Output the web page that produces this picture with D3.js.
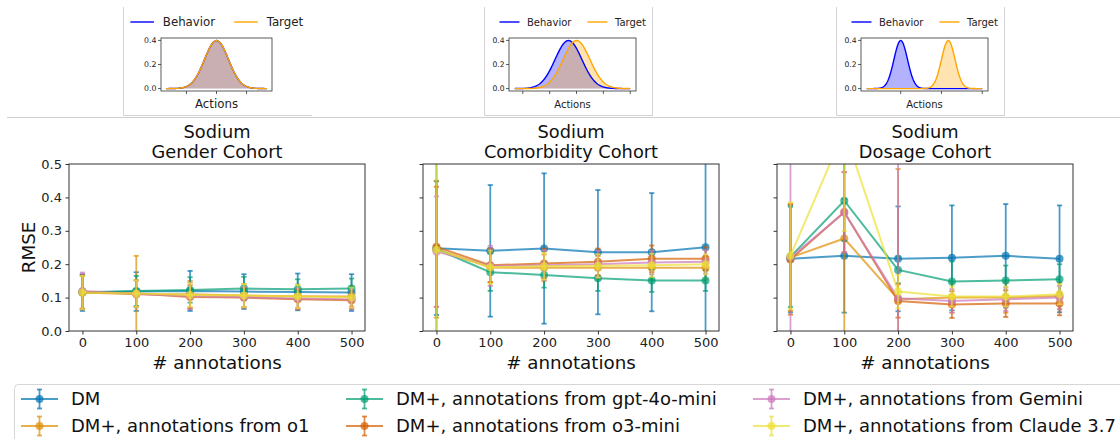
<!DOCTYPE html>
<html>
<head>
<meta charset="utf-8">
<script src="https://cdn.jsdelivr.net/npm/d3@7"></script>
<style>
  body { margin: 0; background: #fff; }
  svg { display: block; font-family: "DejaVu Sans", sans-serif; }
</style>
</head>
<body>
<div id="chart"></div>
<script>
// x values shared by every panel
const annotations = [0, 100, 200, 300, 400, 500];

const seriesNames = [
  "DM",
  "DM+, annotations from o1",
  "DM+, annotations from gpt-4o-mini",
  "DM+, annotations from o3-mini",
  "DM+, annotations from Gemini",
  "DM+, annotations from Claude 3.7"
];
const seriesColors = ["#0173b2", "#de8f05", "#029e73", "#d55e00", "#cc78bc", "#ece133"];

const cohortTitles = ["Gender Cohort", "Comorbidity Cohort", "Dosage Cohort"];
const yTicks = [0, 0.1, 0.2, 0.3, 0.4, 0.5];

// RMSE means, one row per series (same order as seriesNames)
const genderMean = [
  [0.115, 0.118, 0.120, 0.118, 0.117, 0.115],
  [0.115, 0.110, 0.110, 0.106, 0.104, 0.103],
  [0.116, 0.120, 0.123, 0.127, 0.125, 0.127],
  [0.117, 0.112, 0.102, 0.100, 0.095, 0.092],
  [0.120, 0.111, 0.105, 0.101, 0.097, 0.095],
  [0.115, 0.112, 0.108, 0.106, 0.103, 0.100]
];
const genderErr = [
  [0.055, 0.058, 0.060, 0.052, 0.055, 0.055],
  [0.050, 0.115, 0.040, 0.035, 0.035, 0.030],
  [0.050, 0.045, 0.038, 0.035, 0.030, 0.030],
  [0.050, 0.040, 0.035, 0.030, 0.030, 0.025],
  [0.055, 0.040, 0.040, 0.030, 0.030, 0.030],
  [0.050, 0.040, 0.035, 0.035, 0.035, 0.030]
];

const comorbidityMean = [
  [0.248, 0.240, 0.247, 0.236, 0.236, 0.251],
  [0.245, 0.190, 0.189, 0.189, 0.189, 0.189],
  [0.245, 0.176, 0.168, 0.158, 0.151, 0.151],
  [0.252, 0.197, 0.202, 0.207, 0.216, 0.216],
  [0.238, 0.195, 0.197, 0.200, 0.205, 0.207],
  [0.243, 0.191, 0.194, 0.195, 0.197, 0.200]
];
const comorbidityErr = [
  [0.200, 0.197, 0.225, 0.186, 0.177, 0.270],
  [0.205, 0.045, 0.040, 0.035, 0.035, 0.035],
  [0.300, 0.056, 0.038, 0.038, 0.034, 0.031],
  [0.180, 0.050, 0.045, 0.040, 0.040, 0.035],
  [0.165, 0.060, 0.045, 0.040, 0.035, 0.035],
  [0.300, 0.050, 0.040, 0.035, 0.035, 0.030]
];

const dosageMean = [
  [0.216, 0.225, 0.216, 0.219, 0.225, 0.216],
  [0.220, 0.277, 0.095, 0.100, 0.100, 0.105],
  [0.222, 0.390, 0.183, 0.148, 0.151, 0.155],
  [0.214, 0.356, 0.090, 0.079, 0.082, 0.082],
  [0.220, 0.355, 0.098, 0.090, 0.095, 0.100],
  [0.225, 0.600, 0.118, 0.103, 0.103, 0.110]
];
const dosageErr = [
  [0.160, 0.170, 0.157, 0.157, 0.155, 0.160],
  [0.160, 0.300, 0.390, 0.045, 0.045, 0.040],
  [0.150, 0.120, 0.040, 0.060, 0.045, 0.045],
  [0.165, 0.120, 0.050, 0.040, 0.040, 0.035],
  [0.300, 0.120, 0.420, 0.035, 0.035, 0.035],
  [0.160, 0.300, 0.050, 0.030, 0.030, 0.030]
];

// small distribution insets above each panel
const insetLegend = ["Behavior", "Target"];
const insetBehaviorMean = [0, 0, 0];
const insetTargetMean = [0, 0.6, 7];
const insetDomain = [[-4.2, 4.2], [-4, 4.6], [-5, 12]];
const insetXTicks = [[-2.5, 0, 2.5], [-3.4, -1.4, 0.6, 2.6, 4.6], [0, 6, 12]];
const insetYTicks = [0, 0.2, 0.4];

const panelMeans = [genderMean, comorbidityMean, dosageMean];
const panelErrs = [genderErr, comorbidityErr, dosageErr];

// ---- layout ----
const W = 1120, H = 439;
const panelLeft = [69, 423, 777];
const panelW = 296;
const panelTop = 164, panelBottom = 331;

const svg = d3.select("#chart").append("svg")
  .attr("width", W).attr("height", H);

// ---- insets ----
const insetAxes = [
  { x0: 161, x1: 272, font: 11.8, tick: 7.8, box: [123, 312], right: false },
  { x0: 509, x1: 636, font: 10, tick: 7.6, box: [484, 653], right: true },
  { x0: 861, x1: 988, font: 10, tick: 7.6, box: [836, 1005], right: true }
];
const insetTop = 38, insetBot = 91;

function pdf(x, mu) {
  return Math.exp(-0.5 * (x - mu) * (x - mu)) / Math.sqrt(2 * Math.PI);
}

insetAxes.forEach((ax, k) => {
  const g = svg.append("g");
  const [b0, b1] = ax.box;
  // frame of the inset image
  let p = `M${b0 + 0.5},7 L${b0 + 0.5},115.5 L${b1},115.5`;
  if (ax.right) p += ` L${b1 - 0.5},115.5 L${b1 - 0.5},7`;
  g.append("path").attr("d", p).attr("fill", "none").attr("stroke", "#d4d4d4").attr("stroke-width", 1);

  const [d0, d1] = insetDomain[k];
  const pad = (d1 - d0) * 0.05;
  const x = d3.scaleLinear().domain([d0 - pad, d1 + pad]).range([ax.x0, ax.x1]);
  const y = d3.scaleLinear().domain([-0.02, 0.42]).range([insetBot, insetTop]);

  const xs = d3.range(0, 301).map(i => d0 + (d1 - d0) * i / 300);
  const area = d3.area().x(d => x(d[0])).y0(y(0)).y1(d => y(d[1]));
  const line = d3.line().x(d => x(d[0])).y(d => y(d[1]));
  const beh = xs.map(v => [v, pdf(v, insetBehaviorMean[k])]);
  const tgt = xs.map(v => [v, pdf(v, insetTargetMean[k])]);

  g.append("path").attr("d", area(beh)).attr("fill", "#0000ff").attr("opacity", 0.3);
  g.append("path").attr("d", area(tgt)).attr("fill", "#ffa500").attr("opacity", 0.3);
  g.append("path").attr("d", line(beh)).attr("fill", "none").attr("stroke", "#0000ff").attr("stroke-width", 1.4);
  g.append("path").attr("d", line(tgt)).attr("fill", "none").attr("stroke", "#ffa500").attr("stroke-width", 1.4);

  g.append("rect").attr("x", ax.x0).attr("y", insetTop)
    .attr("width", ax.x1 - ax.x0).attr("height", insetBot - insetTop)
    .attr("fill", "none").attr("stroke", "#333").attr("stroke-width", 0.8);

  insetXTicks[k].forEach(t => {
    g.append("line").attr("x1", x(t)).attr("x2", x(t)).attr("y1", insetBot).attr("y2", insetBot + 3)
      .attr("stroke", "#333").attr("stroke-width", 0.8);
  });
  insetYTicks.forEach(t => {
    g.append("line").attr("x1", ax.x0 - 3).attr("x2", ax.x0).attr("y1", y(t)).attr("y2", y(t))
      .attr("stroke", "#333").attr("stroke-width", 0.8);
    g.append("text").attr("x", ax.x0 - 4.5).attr("y", y(t) + 2.8)
      .attr("text-anchor", "end").attr("font-size", ax.tick).attr("fill", "#222")
      .text(d3.format(".1f")(t));
  });
  g.append("text").attr("x", (ax.x0 + ax.x1) / 2).attr("y", 108)
    .attr("text-anchor", "middle").attr("font-size", ax.font).attr("fill", "#222").text("Actions");

  // legend
  const em = ax.font;
  const c = (ax.x0 + ax.x1) / 2;
  const start = c - 7.3 * em;
  [["#0000ff", 0], ["#ffa500", 8.8 * em]].forEach(([col, off], i) => {
    g.append("line").attr("x1", start + off).attr("x2", start + off + 2 * em)
      .attr("y1", 22).attr("y2", 22).attr("stroke", col).attr("stroke-width", 1.4);
    g.append("text").attr("x", start + off + 2.75 * em).attr("y", 22 + 0.36 * em)
      .attr("font-size", em).attr("fill", "#222").text(insetLegend[i]);
  });
});

// separator under the insets
svg.append("line").attr("x1", 7).attr("x2", W).attr("y1", 117.5).attr("y2", 117.5)
  .attr("stroke", "#cfcfcf").attr("stroke-width", 1);

// ---- main panels ----
const x = d3.scaleLinear().domain([-25, 525]);
const y = d3.scaleLinear().domain([0, 0.5]).range([panelBottom, panelTop]);
const alpha = 0.7;

panelMeans.forEach((means, p) => {
  const left = panelLeft[p];
  const px = x.copy().range([left, left + panelW]);
  const g = svg.append("g");

  g.append("clipPath").attr("id", "clip" + p)
    .append("rect").attr("x", left).attr("y", panelTop).attr("width", panelW).attr("height", panelBottom - panelTop);

  const plot = g.append("g").attr("clip-path", `url(#clip${p})`);
  means.forEach((row, s) => {
    const col = seriesColors[s];
    const err = panelErrs[p][s];
    const pts = annotations.map((a, i) => ({ a, v: row[i], e: err[i] }));
    const sg = plot.append("g");
    pts.forEach(d => {
      const cx = px(d.a);
      sg.append("line").attr("x1", cx).attr("x2", cx).attr("y1", y(d.v - d.e)).attr("y2", y(d.v + d.e))
        .attr("stroke", col).attr("stroke-width", 1.8).attr("opacity", alpha);
      [d.v - d.e, d.v + d.e].forEach(v => {
        sg.append("line").attr("x1", cx - 2.6).attr("x2", cx + 2.6).attr("y1", y(v)).attr("y2", y(v))
          .attr("stroke", col).attr("stroke-width", 1.8).attr("opacity", alpha);
      });
    });
    sg.append("path")
      .attr("d", d3.line().x(d => px(d.a)).y(d => y(d.v))(pts))
      .attr("fill", "none").attr("stroke", col).attr("stroke-width", 2).attr("opacity", alpha);
    sg.selectAll("circle").data(pts).join("circle")
      .attr("cx", d => px(d.a)).attr("cy", d => y(d.v)).attr("r", 4)
      .attr("fill", col).attr("opacity", alpha);
  });

  // axes
  const xAxis = g.append("g").attr("transform", `translate(0,${panelBottom})`)
    .call(d3.axisBottom(px).tickValues(annotations).tickSize(3.5).tickPadding(3));
  const yAxis = g.append("g").attr("transform", `translate(${left},0)`)
    .call(d3.axisLeft(y).tickValues(yTicks).tickSize(3.5).tickPadding(3.5)
      .tickFormat(p === 0 ? d3.format(".1f") : () => ""));
  [xAxis, yAxis].forEach(a => {
    a.select(".domain").remove();
    a.selectAll("line").attr("stroke", "#333");
    a.selectAll("text").attr("font-size", 13).attr("fill", "#222").attr("font-family", "DejaVu Sans");
  });

  g.append("rect").attr("x", left).attr("y", panelTop).attr("width", panelW).attr("height", panelBottom - panelTop)
    .attr("fill", "none").attr("stroke", "#333").attr("stroke-width", 1);

  const cx = left + panelW / 2;
  g.append("text").attr("x", cx).attr("y", 138).attr("text-anchor", "middle")
    .attr("font-size", 17.8).attr("fill", "#111").text("Sodium");
  g.append("text").attr("x", cx).attr("y", 158).attr("text-anchor", "middle")
    .attr("font-size", 17.8).attr("fill", "#111").text(cohortTitles[p]);
  g.append("text").attr("x", cx).attr("y", 369).attr("text-anchor", "middle")
    .attr("font-size", 18.3).attr("fill", "#111").text("# annotations");
});

svg.append("text").attr("transform", `translate(34.5,${(panelTop + panelBottom) / 2}) rotate(-90)`)
  .attr("text-anchor", "middle").attr("font-size", 18.3).attr("fill", "#111").text("RMSE");

// ---- legend ----
const leg = svg.append("g");
leg.append("rect").attr("x", 14.5).attr("y", 384.5).attr("width", 1120).attr("height", 70).attr("rx", 4)
  .attr("fill", "#fff").attr("stroke", "#d6d6d6").attr("stroke-width", 1);
const colX = [21, 346, 753];
const rowY = [399, 426];
seriesNames.forEach((name, i) => {
  const hx = colX[Math.floor(i / 2)], hy = rowY[i % 2];
  const col = seriesColors[i];
  const it = leg.append("g");
  it.append("line").attr("x1", hx).attr("x2", hx + 37).attr("y1", hy).attr("y2", hy)
    .attr("stroke", col).attr("stroke-width", 2).attr("opacity", alpha);
  it.append("line").attr("x1", hx + 18.5).attr("x2", hx + 18.5).attr("y1", hy - 9.5).attr("y2", hy + 9.5)
    .attr("stroke", col).attr("stroke-width", 1.8).attr("opacity", alpha);
  [hy - 9.5, hy + 9.5].forEach(v => {
    it.append("line").attr("x1", hx + 16).attr("x2", hx + 21).attr("y1", v).attr("y2", v)
      .attr("stroke", col).attr("stroke-width", 1.8).attr("opacity", alpha);
  });
  it.append("circle").attr("cx", hx + 18.5).attr("cy", hy).attr("r", 4).attr("fill", col).attr("opacity", alpha);
  it.append("text").attr("x", hx + 50).attr("y", hy + 6.3).attr("font-size", 18).attr("fill", "#111").text(name);
});
</script>
</body>
</html>
